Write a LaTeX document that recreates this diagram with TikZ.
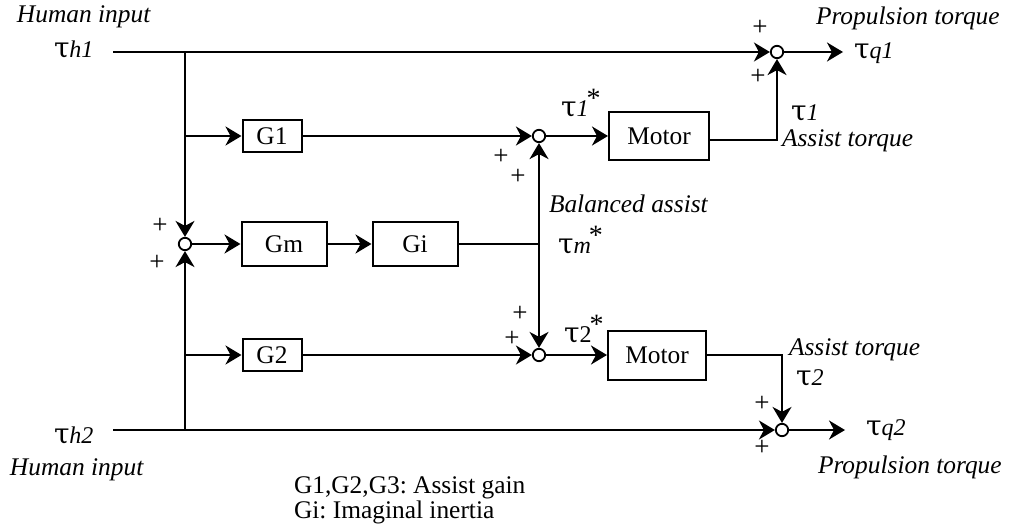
\documentclass[tikz,border=0pt]{standalone}
\usepackage{fontspec}
\setmainfont{Liberation Serif}
\newfontfamily\grk{DejaVu Serif}
\usetikzlibrary{arrows.meta,positioning}
\frenchspacing
\newcommand\fsz{\fontsize{12.7}{12.5}\selectfont}
\newcommand\tsym[1]{{\grk\upshape\fontsize{14}{14}\selectfont τ}{\fontsize{12}{12}\selectfont\itshape #1}}
\newcommand\tstar[1]{{\grk\upshape\fontsize{14}{14}\selectfont τ}{\fontsize{12}{12}\selectfont #1}\kern-1pt\raisebox{4.5pt}{\upshape\fontsize{14}{14}\selectfont *}}
\tikzset{%
  block/.style = {draw, line width=1pt, inner sep=0pt, font=\fsz},%
  sumpt/.style = {circle, draw, line width=0.9pt, inner sep=0pt, minimum size=6.2pt},%
  sig/.style   = {-{Stealth[length=8pt,width=9.5pt,inset=2.5pt]}},%
  lbl/.style   = {inner sep=0pt, font=\fsz\itshape},%
  plus/.style  = {inner sep=0pt, font=\fontsize{13.5}{14}\selectfont},%
  note/.style  = {inner sep=0pt, font=\fsz}%
}
\begin{document}
\begin{tikzpicture}[x=0.5pt, y=-0.5pt, line width=1pt]
  \useasboundingbox (0,0) rectangle (1015,529);
  % summing points
  \node[sumpt] (s0) at (185,244) {};
  \node[sumpt] (s1) at (539,136) {};
  \node[sumpt] (s2) at (539,355) {};
  \node[sumpt] (s3) at (777,52) {};
  \node[sumpt] (s4) at (782,430) {};
  % blocks
  \node[block, minimum width=29.5pt, minimum height=16pt] (g1) at (272,136) {G1};
  \node[block, minimum width=42.5pt, minimum height=22pt] (gm) at (284,244) {Gm};
  \node[block, minimum width=42.5pt, minimum height=22pt] (gi) at (415,244) {Gi};
  \node[block, minimum width=29.5pt, minimum height=16pt] (g2) at (272,355) {G2};
  \node[block, minimum width=50pt, minimum height=24pt] (m1) at (659,136) {Motor};
  \node[block, minimum width=49pt, minimum height=24.5pt] (m2) at (657,355) {Motor};
  % free ends and branch points
  \coordinate (h1) at (113,52);
  \coordinate (h2) at (113,430);
  \coordinate (b1) at (185,52);
  \coordinate (b2) at (185,430);
  \coordinate (k1) at (185,136);
  \coordinate (k2) at (185,355);
  \coordinate (tap) at (539,244);
  \coordinate (q1) at (843,52);
  \coordinate (q2) at (845,430);
  % signals
  \draw[sig] (h1) -- (s3);
  \draw[sig] (h2) -- (s4);
  \draw[sig] (b1) -- (s0);
  \draw[sig] (b2) -- (s0);
  \draw[sig] (k1) -- (g1);
  \draw[sig] (k2) -- (g2);
  \draw[sig] (s0) -- (gm);
  \draw[sig] (gm) -- (gi);
  \draw (gi) -- (tap);
  \draw[sig] (tap) -- (s1);
  \draw[sig] (tap) -- (s2);
  \draw[sig] (g1) -- (s1);
  \draw[sig] (g2) -- (s2);
  \draw[sig] (s1) -- (m1);
  \draw[sig] (s2) -- (m2);
  \draw[sig] ([yshift=-2pt]m1.east) -| (s3);
  \draw[sig] (m2.east) -| (s4);
  \draw[sig] (s3) -- (q1);
  \draw[sig] (s4) -- (q2);
  % labels
  \node[lbl, anchor=base west] (hi1) at (16,23) {Human input};
  \node[lbl, anchor=base west] (th1) at (53,58) {\tsym{h1}};
  \node[lbl, anchor=base west] (th2) at (53,443) {\tsym{h2}};
  \node[lbl, anchor=base west] (hi2) at (9,475) {Human input};
  \node[lbl, anchor=base west] (pt1) at (815,25) {Propulsion torque};
  \node[lbl, anchor=base west] (tq1) at (853,59) {\tsym{q1}};
  \node[lbl, anchor=base west] (t1) at (790,121) {\tsym{1}};
  \node[lbl, anchor=base west] (at1) at (781,147) {Assist torque};
  \node[lbl, anchor=base west] (at2) at (788,355) {Assist torque};
  \node[lbl, anchor=base west] (t2) at (795,385) {\tsym{2}};
  \node[lbl, anchor=base west] (tq2) at (865,435) {\tsym{q2}};
  \node[lbl, anchor=base west] (pt2) at (817,473) {Propulsion torque};
  \node[lbl, anchor=base west] (ba) at (548,213) {Balanced assist};
  \node[lbl, anchor=base west] (tm) at (557,253) {\tstar{\itshape m}};
  \node[lbl, anchor=base west] (ts1) at (560,117) {\tstar{\itshape 1}};
  \node[lbl, anchor=base west] (ts2) at (563,342) {\tstar{\upshape 2}};
  \node[note, anchor=base west] (key1) at (293,493) {G1,G2,G3: Assist gain};
  \node[note, anchor=base west] (key2) at (293,518) {Gi: Imaginal inertia};
  % signs
  \node[plus] (p1) at (160,226) {+};
  \node[plus] (p2) at (157,263) {+};
  \node[plus] (p3) at (501,157) {+};
  \node[plus] (p4) at (518,177) {+};
  \node[plus] (p5) at (520,314) {+};
  \node[plus] (p6) at (512,339) {+};
  \node[plus] (p7) at (760,28) {+};
  \node[plus] (p8) at (758,77) {+};
  \node[plus] (p9) at (762,404) {+};
  \node[plus] (p10) at (762,448) {+};
\end{tikzpicture}
\end{document}
